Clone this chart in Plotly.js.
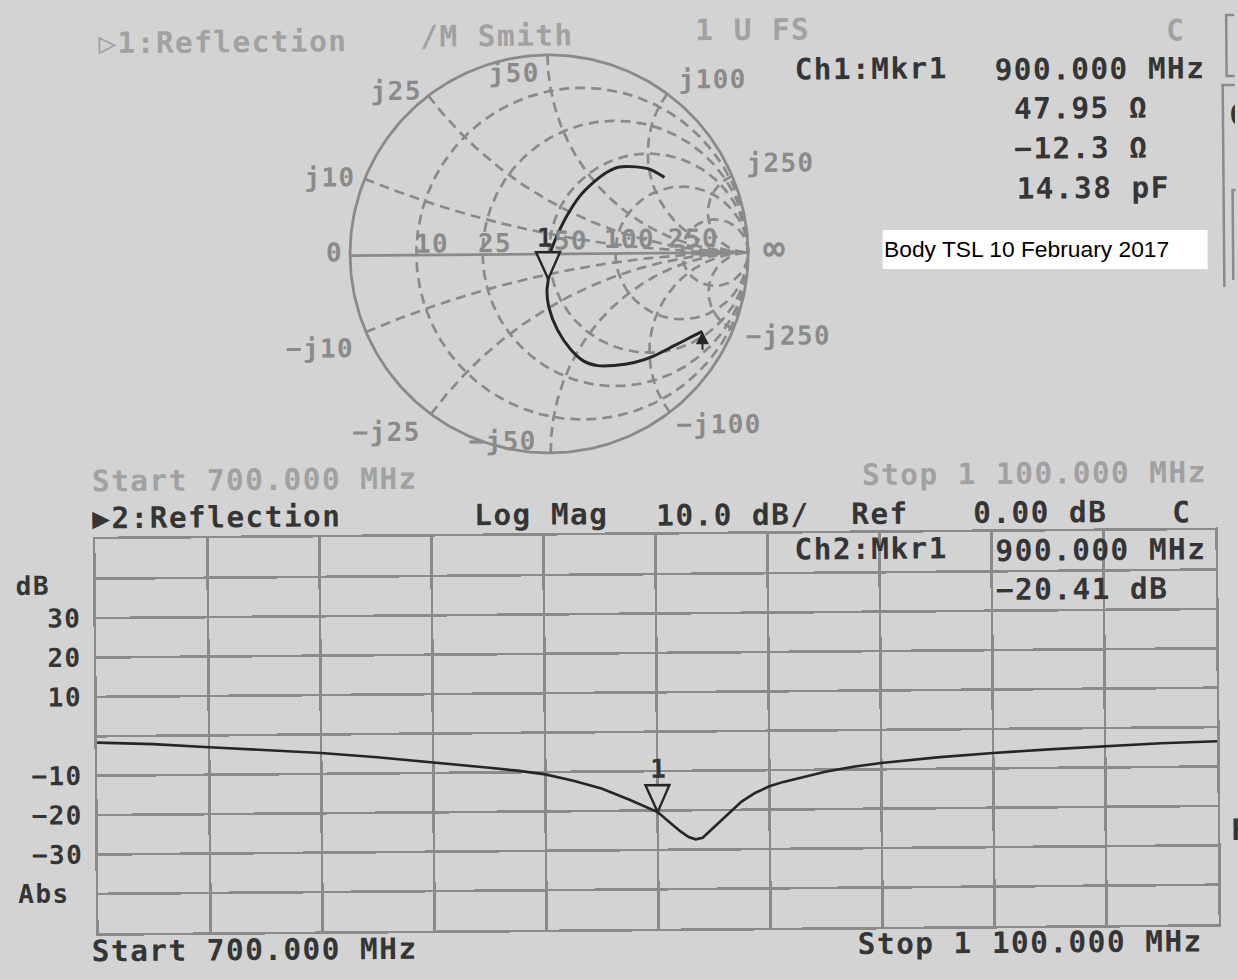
<!DOCTYPE html>
<html>
<head>
<meta charset="utf-8">
<script src="https://cdn.plot.ly/plotly-3.0.1.min.js"></script>
<style>
  html, body { margin: 0; padding: 0; width: 1238px; height: 979px; overflow: hidden; background: #d3d3d3; }
  #screen { width: 1238px; height: 979px; transform: rotate(-0.47deg); transform-origin: 619px 489.5px; }
  /* the analyzer's bitmap font is wide: open up the monospace glyphs a little */
  text[style*="Sans Mono"] { letter-spacing: 1.4px; }
</style>
</head>
<body>
<div id="screen"></div>
<script>
// ---------------- data ----------------
const Z0 = 50;                                   // system impedance, ohm
const resistanceTicksOhm = [10, 25, 50, 100, 250];
const reactanceTicksOhm  = [10, 25, 50, 100, 250];

// Channel 1 – reflection coefficient over the sweep (700 MHz end first)
const smithGammaRe = [0.767, 0.709, 0.625, 0.524, 0.424, 0.323, 0.240, 0.172, 0.106, 0.039,
                      -0.004, -0.012, -0.005, -0.012, 0.005, 0.039, 0.089, 0.156, 0.223, 0.290,
                      0.357, 0.441, 0.508, 0.583];
const smithGammaIm = [-0.395, -0.424, -0.466, -0.516, -0.549, -0.563, -0.563, -0.541, -0.482, -0.382,
                      -0.265, -0.181, -0.126, -0.064, 0.004, 0.087, 0.187, 0.288, 0.355, 0.406,
                      0.434, 0.434, 0.422, 0.380];

// Channel 2 – log magnitude of the reflection
const freqMHz = [700, 710, 720, 740, 760, 780, 800, 820, 840, 850, 860, 870, 880, 890, 900,
                 904, 908, 911, 913.5, 916, 920, 925, 930, 935, 940, 945, 953, 960, 970, 980,
                 1000, 1020, 1040, 1060, 1080, 1100];
const s11Db   = [-1.6, -1.8, -2.1, -3.0, -3.8, -4.7, -5.9, -7.3, -8.8, -9.6, -10.6, -12.3, -14.3, -17.2, -20.41,
                 -22.9, -25.3, -26.8, -27.4, -27.0, -24.4, -20.9, -17.9, -15.7, -14.1, -13.0, -11.6, -10.5, -9.3, -8.4,
                 -7.1, -6.1, -5.3, -4.6, -4.0, -3.6];

// marker 1 readouts
const markerFreqMHz = [900];
const marker1Ohm = [47.95, -12.3];               // resistance, reactance
const marker1CapPf = [14.38];
const marker2Db = [-20.41];

// sweep and scale settings
const sweepMHz = [700, 1100];
const dbScale = [10, 0];                          // dB per division, reference level
const dbTickVals = [-40, -30, -20, -10, 0, 10, 20, 30, 40];
const dbTickText = ['', '\u221230', '\u221220', '\u221210', '', '10', '20', '30', ''];

// ---------------- helpers ----------------
const W = 1238, H = 979;
const BG = '#d3d3d3', INK = '#353535', TRACE = '#262626', GRID = '#8a8a8a', DIM = '#a1a1a1';
const MONO = 'DejaVu Sans Mono';
const px = x => x / W;            // page pixel -> paper x
const py = y => 1 - y / H;        // page pixel -> paper y
const minus = s => String(s).replace('-', '\u2212');
const mhz = v => {
  const [i, d] = v.toFixed(3).split('.');
  return i.replace(/\B(?=(\d{3})+(?!\d))/g, ' ') + '.' + d;
};

function gammaOf(rOhm, xOhm) {
  if (!isFinite(rOhm)) return [1, 0];
  const r = rOhm / Z0, x = xOhm / Z0;
  const den = (r + 1) * (r + 1) + x * x;
  return [(r * r + x * x - 1) / den, 2 * x / den];
}

// ---------------- Smith chart grid ----------------
const gridRe = [], gridIm = [];
resistanceTicksOhm.forEach(R => {
  const r = R / Z0, c = r / (1 + r), rad = 1 / (1 + r);
  for (let k = 0; k <= 360; k++) {
    const t = k * Math.PI / 180;
    gridRe.push(c + rad * Math.cos(t)); gridIm.push(rad * Math.sin(t));
  }
  gridRe.push(null); gridIm.push(null);
});
reactanceTicksOhm.forEach(X => [X, -X].forEach(x => {
  for (let k = 0; k < 400; k++) {
    const g = gammaOf(Z0 * Math.tan(k / 400 * Math.PI / 2), x);
    gridRe.push(g[0]); gridIm.push(g[1]);
  }
  gridRe.push(1, null); gridIm.push(0, null);
}));

const rimRe = [], rimIm = [];
for (let k = 0; k <= 360; k++) { rimRe.push(Math.cos(k * Math.PI / 180)); rimIm.push(Math.sin(k * Math.PI / 180)); }
rimRe.push(null, -1, 1); rimIm.push(null, 0, 0);

const mk1 = gammaOf(marker1Ohm[0], marker1Ohm[1]);

const traces = [
  { x: gridRe, y: gridIm, xaxis: 'x', yaxis: 'y', mode: 'lines', hoverinfo: 'skip',
    line: { color: GRID, width: 2.7, dash: '10px,6px' } },
  { x: rimRe, y: rimIm, xaxis: 'x', yaxis: 'y', mode: 'lines', hoverinfo: 'skip',
    line: { color: GRID, width: 2.8 } },
  { x: smithGammaRe, y: smithGammaIm, xaxis: 'x', yaxis: 'y', mode: 'lines',
    line: { color: TRACE, width: 3, shape: 'spline', smoothing: 0.8 } },
  { x: freqMHz, y: s11Db, xaxis: 'x2', yaxis: 'y2', mode: 'lines',
    line: { color: TRACE, width: 2.6 } }
];

// ---------------- Smith labels ----------------
const smithFont = { family: MONO, size: 26, color: GRID, weight: 'bold' };
const posShift = [[-35, 2], [-32, 5], [-34, -17.5], [46, 14], [48, 13]];
const negShift = [[-46, -16], [-45, -17], [-48, 12], [49, -12], [55, -7]];
const realShift = [[16, 11.5], [12, 11.5], [22, 13], [14, 14], [12, 14]];
const ann = [];
function smithLabel(text, g, s, size) {
  ann.push({ xref: 'x', yref: 'y', x: g[0], y: g[1], text, showarrow: false,
    xanchor: 'center', yanchor: 'middle', xshift: s[0], yshift: s[1],
    font: Object.assign({}, smithFont, size ? { size } : {}) });
}
reactanceTicksOhm.forEach((X, i) => {
  smithLabel('j' + X, gammaOf(0, X), posShift[i]);
  smithLabel('\u2212j' + X, gammaOf(0, -X), negShift[i]);
});
resistanceTicksOhm.forEach((R, i) => smithLabel(String(R), gammaOf(R, 0), realShift[i]));
smithLabel('0', gammaOf(0, 0), [-16, 3]);
smithLabel('\u221e', gammaOf(Infinity, 0), [26, 4], 36);

// marker number labels
ann.push({ xref: 'x', yref: 'y', x: mk1[0], y: mk1[1], text: '1', showarrow: false, yshift: 42, xshift: -2,
  font: { family: MONO, size: 26, color: INK, weight: 'bold' } });
ann.push({ xref: 'x2', yref: 'y2', x: markerFreqMHz[0], y: marker2Db[0], text: '1', showarrow: false, yshift: 43, xshift: 1,
  font: { family: MONO, size: 26, color: INK, weight: 'bold' } });

// sweep-start pointer at the end of the Smith trace
ann.push({ xref: 'x', yref: 'y', x: smithGammaRe[0], y: smithGammaIm[0], text: '', showarrow: true,
  ax: 0, ay: 20, arrowhead: 2, arrowsize: 1.3, arrowwidth: 2, arrowcolor: TRACE });

// ---------------- screen annotations ----------------
function txt(text, x, y, size, color, anchor) {
  ann.push({ xref: 'paper', yref: 'paper', x: px(x), y: py(y), text, showarrow: false,
    xanchor: anchor || 'center', yanchor: 'middle',
    font: { family: MONO, size, color, weight: 'bold' } });
}
const F = 29.5;
txt('\u25b71:Reflection', 226.7, 38.8, F, DIM);
txt('/M Smith', 500.7, 35, F, DIM);
txt('1 U FS', 756.3, 31.1, F, DIM);
txt('C', 1179.8, 34.6, F, DIM);
txt('Ch1:Mkr1', 874.8, 71.1, F, INK);
txt(mhz(markerFreqMHz[0]) + ' MHz', 1103, 72.9, F, INK);
txt(marker1Ohm[0].toFixed(2) + ' \u03a9', 1084, 112.1, F, INK);
txt(minus(marker1Ohm[1].toFixed(1)) + ' \u03a9', 1083.7, 152.1, F, INK);
txt(marker1CapPf[0].toFixed(2) + ' pF', 1095.9, 192.2, F, INK);

txt('Start ' + mhz(sweepMHz[0]) + ' MHz', 255.1, 477, F, DIM);
txt('Stop ' + mhz(sweepMHz[1]) + ' MHz', 1034.5, 477.4, F, DIM);

txt('\u25b62:Reflection', 216.3, 513.7, F, INK);
txt('Log Mag', 540.8, 514.4, F, INK);
txt(dbScale[0].toFixed(1) + ' dB/', 732.3, 515.9, F, INK);
txt('Ref', 879.8, 516.1, F, INK);
txt(dbScale[1].toFixed(2) + ' dB', 1040.3, 515.5, F, INK);
txt('C', 1181.8, 516.6, F, INK);
txt('Ch2:Mkr1', 870, 551, F, INK);
txt(mhz(markerFreqMHz[0]) + ' MHz', 1100.4, 553.9, F, INK);
txt(minus(marker2Db[0].toFixed(2)) + ' dB', 1081.2, 592.8, F, INK);

txt('dB', 12.5, 581.2, 26, INK, 'left');
txt('Abs', 13.4, 889.3, 26, INK, 'left');
txt('Start ' + mhz(sweepMHz[0]) + ' MHz', 251.2, 947, F, INK);
txt('Stop ' + mhz(sweepMHz[1]) + ' MHz', 1026.3, 946.4, F, INK);

// soft-key frame glimpsed at the right edge
txt('C', 1230, 120, F, INK, 'left');
txt('F', 1226, 835, F, INK, 'left');

// hand-written note
ann.push({ xref: 'paper', yref: 'paper', x: px(1046.7), y: py(252.7), xanchor: 'center', yanchor: 'middle',
  text: 'Body TSL 10 February 2017', showarrow: false, align: 'left', valign: 'middle',
  width: 322, height: 36, borderpad: 1, bgcolor: '#ffffff', textangle: 0.47,
  font: { family: 'Liberation Sans, Arial, sans-serif', size: 22.8, color: '#000000' } });

// ---------------- shapes ----------------
const markerPath = 'M-12,27 L12,27 L0,0 Z';
const shapes = [
  { type: 'path', xref: 'x', yref: 'y', xsizemode: 'pixel', ysizemode: 'pixel',
    xanchor: mk1[0], yanchor: mk1[1], path: markerPath, fillcolor: BG, line: { color: TRACE, width: 2.4 } },
  { type: 'path', xref: 'x2', yref: 'y2', xsizemode: 'pixel', ysizemode: 'pixel',
    xanchor: markerFreqMHz[0], yanchor: marker2Db[0], path: markerPath, fillcolor: BG, line: { color: TRACE, width: 2.4 } },
  // reference-level pointer
  { type: 'path', xref: 'x2', yref: 'y2', xsizemode: 'pixel', ysizemode: 'pixel',
    xanchor: sweepMHz[0], yanchor: dbScale[1], path: 'M-15,9.5 L-2,0 L-15,-9.5 Z', fillcolor: TRACE, line: { width: 0 } },
  // soft-key frame edges
  { type: 'rect', xref: 'paper', yref: 'paper', x0: px(1230), x1: px(1260), y0: py(20), y1: py(81), line: { color: GRID, width: 2.5 } },
  { type: 'path', xref: 'paper', yref: 'paper', path: `M${px(1260)},${py(90)} L${px(1226)},${py(90)} L${px(1226)},${py(292)}`, line: { color: GRID, width: 2.5 } },
  { type: 'path', xref: 'paper', yref: 'paper', path: `M${px(1260)},${py(195)} L${px(1235)},${py(195)} L${px(1235)},${py(285)}`, line: { color: GRID, width: 2.5 } }
];

// ---------------- layout ----------------
const R = 199, cx = 551, cy = 253.4, span = 1.2;
const layout = {
  width: W, height: H, margin: { l: 0, r: 0, t: 0, b: 0 },
  paper_bgcolor: BG, plot_bgcolor: 'rgba(0,0,0,0)', showlegend: false,
  xaxis: { domain: [px(cx - span * R), px(cx + span * R)], range: [-span, span], visible: false, fixedrange: true },
  yaxis: { domain: [py(cy + span * R), py(cy - span * R)], range: [-span, span], visible: false, fixedrange: true, anchor: 'x' },
  xaxis2: { domain: [px(95), px(1215)], range: sweepMHz, anchor: 'y2', tick0: sweepMHz[0],
    dtick: (sweepMHz[1] - sweepMHz[0]) / 10, showgrid: true, gridcolor: GRID, gridwidth: 2.6,
    showline: true, mirror: true, linecolor: GRID, linewidth: 2.6, zeroline: false,
    showticklabels: false, ticks: '', fixedrange: true },
  yaxis2: { domain: [py(929), py(535)], range: [dbScale[1] - 5 * dbScale[0], dbScale[1] + 5 * dbScale[0]], anchor: 'x2',
    tickvals: dbTickVals, ticktext: dbTickText, showgrid: true, gridcolor: GRID, gridwidth: 2.6,
    showline: true, mirror: true, linecolor: GRID, linewidth: 2.6, zeroline: false, ticks: '',
    ticklabelstandoff: 7, tickfont: { family: MONO, size: 26, color: INK, weight: 'bold' }, fixedrange: true },
  annotations: ann,
  shapes
};

Plotly.newPlot('screen', traces, layout, { staticPlot: true, displayModeBar: false });
</script>
</body>
</html>
